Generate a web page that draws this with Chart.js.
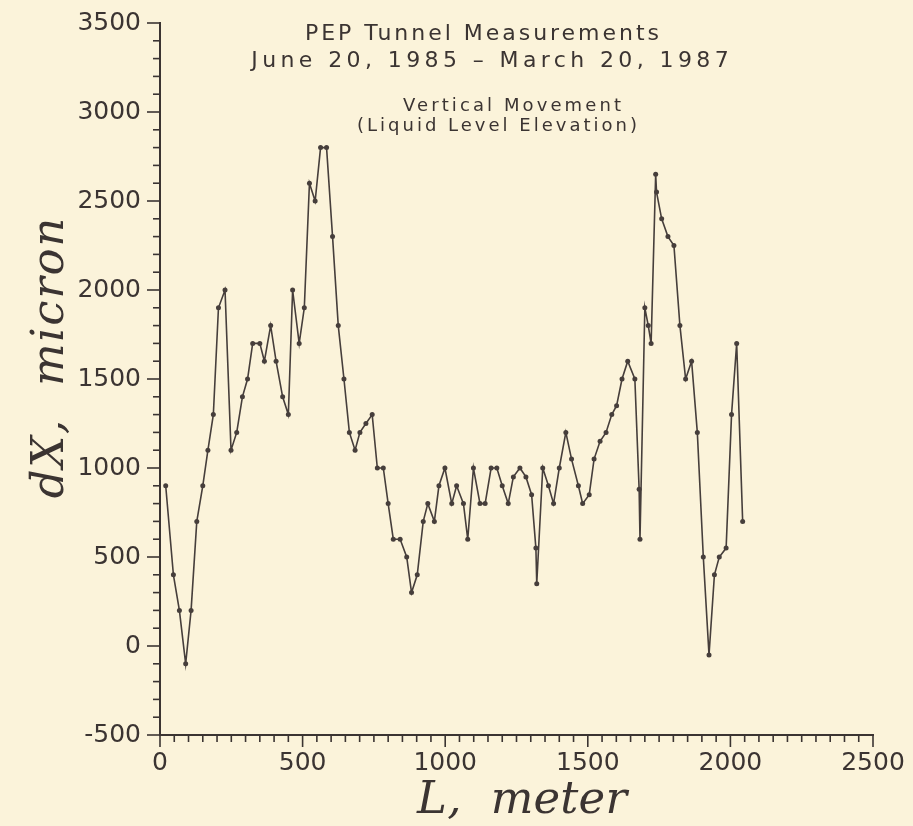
<!DOCTYPE html>
<html>
<head>
<meta charset="utf-8">
<title>PEP Tunnel Measurements</title>
<script src="https://cdn.jsdelivr.net/npm/chart.js@4.4.1/dist/chart.umd.min.js"></script>
<style>
  html, body { margin: 0; padding: 0; background: #fbf3da; }
  #wrap { width: 913px; height: 826px; position: relative; }
</style>
</head>
<body>
<div id="wrap"><canvas id="chart"></canvas></div>
<script>
/* ===== data ===== */

// position along the tunnel, L (meter)
const lengthM = [
  20, 47, 68, 90, 109, 129, 150, 168, 187, 205, 228, 249, 269, 289, 307, 325, 350, 366, 388, 407,
  430, 450, 465, 488, 506, 524, 544, 563, 584, 605, 625, 645, 664, 684, 701, 722, 744, 762, 783, 800,
  818, 842, 865, 882, 902, 923, 939, 962, 978, 999, 1023, 1040, 1064, 1079, 1099, 1122, 1140, 1161, 1181, 1200,
  1221, 1239, 1262, 1283, 1303, 1318, 1321, 1342, 1362, 1380, 1400, 1423, 1443, 1467, 1482, 1505, 1522, 1543, 1564, 1584,
  1601, 1620, 1640, 1665, 1680, 1683, 1700, 1712, 1722, 1738, 1741, 1759, 1781, 1802, 1823, 1843, 1864, 1884, 1905, 1925,
  1944, 1961, 1985, 2004, 2022, 2043
];

// vertical movement, dX (micron)
const dxMicron = [
  900, 400, 200, -100, 200, 700, 900, 1100, 1300, 1900, 2000, 1100, 1200, 1400, 1500, 1700, 1700, 1600, 1800, 1600,
  1400, 1300, 2000, 1700, 1900, 2600, 2500, 2800, 2800, 2300, 1800, 1500, 1200, 1100, 1200, 1250, 1300, 1000, 1000, 800,
  600, 600, 500, 300, 400, 700, 800, 700, 900, 1000, 800, 900, 800, 600, 1000, 800, 800, 1000, 1000, 900,
  800, 950, 1000, 950, 850, 550, 350, 1000, 900, 800, 1000, 1200, 1050, 900, 800, 850, 1050, 1150, 1200, 1300,
  1350, 1500, 1600, 1500, 880, 600, 1900, 1800, 1700, 2650, 2550, 2400, 2300, 2250, 1800, 1500, 1600, 1200, 500, -50,
  400, 500, 550, 1300, 1700, 700
];

const xRange = [0, 2500];
const yRange = [-500, 3500];
const majorStep = 500;
const xMinorStep = 50;
const yMinorStep = 100;

const titleLines = ["PEP Tunnel Measurements", "June 20, 1985 \u2013 March 20, 1987"];
const subtitleLines = ["Vertical Movement", "(Liquid Level Elevation)"];
const xTitle = "L,  meter";
const yTitle = "dX,  micron";

/* ===== drawing ===== */
const INK = "#3b3432";

// fit a text line to a given width by spreading the letters
function spaced(ctx, text, cx, y, width) {
  ctx.letterSpacing = "0px";
  const w0 = ctx.measureText(text).width;
  const ls = Math.max(0, (width - w0) / text.length);
  ctx.letterSpacing = ls.toFixed(2) + "px";
  ctx.fillText(text, cx + ls / 2, y);
  ctx.letterSpacing = "0px";
}

// tick marks (major + minor) and the text inside the frame
const decor = {
  id: "decor",
  afterDraw(chart) {
    const { ctx, scales: { x, y } } = chart;
    ctx.save();
    ctx.strokeStyle = INK;
    ctx.lineWidth = 1.6;

    for (let v = xRange[0]; v <= xRange[1]; v += xMinorStep) {
      const px = x.getPixelForValue(v);
      const len = v % majorStep === 0 ? 12 : 7;
      ctx.beginPath(); ctx.moveTo(px, y.bottom); ctx.lineTo(px, y.bottom + len); ctx.stroke();
    }
    for (let v = yRange[0]; v <= yRange[1]; v += yMinorStep) {
      const py = y.getPixelForValue(v);
      const len = v % majorStep === 0 ? 13 : 7;
      ctx.beginPath(); ctx.moveTo(x.left, py); ctx.lineTo(x.left - len, py); ctx.stroke();
    }

    ctx.fillStyle = INK;
    ctx.textAlign = "center";
    ctx.textBaseline = "alphabetic";

    ctx.font = "22px \"DejaVu Sans\", sans-serif";
    spaced(ctx, titleLines[0], 482, 40, 357);
    spaced(ctx, titleLines[1], 490, 67, 482);

    ctx.font = "18px \"DejaVu Sans\", sans-serif";
    spaced(ctx, subtitleLines[0], 512, 111, 221);
    spaced(ctx, subtitleLines[1], 497, 131, 283);

    ctx.font = "italic 45px \"DejaVu Serif\", serif";
    spaced(ctx, xTitle, 522, 813, 210);

    ctx.translate(63, 358);
    ctx.rotate(-Math.PI / 2);
    spaced(ctx, yTitle, 0, 0, 282);
    ctx.restore();
  }
};

const points = lengthM.map((l, i) => ({ x: l, y: dxMicron[i] }));

const axisCommon = {
  type: "linear",
  grid: { display: true, drawOnChartArea: false, drawTicks: true, tickLength: 13, color: "rgba(0,0,0,0)" },
  border: { display: true, color: INK, width: 2 },
  ticks: {
    stepSize: majorStep,
    color: INK,
    font: { family: "DejaVu Sans", size: 25 },
    callback: v => String(v)
  }
};

new Chart(document.getElementById("chart"), {
  type: "line",
  data: {
    datasets: [{
      data: points,
      borderColor: "#463e3b",
      borderWidth: 1.6,
      pointRadius: 2.5,
      pointBackgroundColor: "#463e3b",
      pointBorderWidth: 0,
      tension: 0,
      fill: false
    }]
  },
  options: {
    responsive: true,
    maintainAspectRatio: false,
    animation: false,
    layout: { padding: { top: 23, right: 40, left: 0, bottom: 0 } },
    plugins: { legend: { display: false }, tooltip: { enabled: false } },
    scales: {
      x: {
        ...axisCommon,
        min: xRange[0], max: xRange[1],
        ticks: { ...axisCommon.ticks, padding: 0, maxRotation: 0, autoSkip: false },
        afterFit: s => { s.height = 91; }
      },
      y: {
        ...axisCommon,
        min: yRange[0], max: yRange[1],
        ticks: { ...axisCommon.ticks, padding: 6 },
        afterFit: s => { s.width = 160; }
      }
    }
  },
  plugins: [decor]
});
</script>
</body>
</html>
